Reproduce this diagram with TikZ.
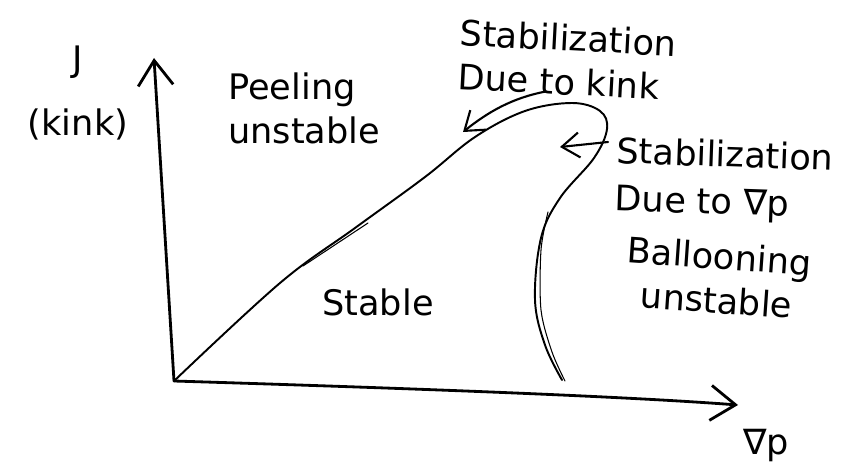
\documentclass[tikz,border=0pt]{standalone}
\usepackage{amsmath,amssymb}
\usepackage{fontspec}
\setmainfont{DejaVu Sans}
\usetikzlibrary{arrows.meta}

\begin{document}
\begin{tikzpicture}[
    x=0.02cm, y=-0.02cm,
    lbl/.style={font=\fontsize{20}{25}\selectfont, inner sep=0pt, align=left},
    ax/.style={line width=1.6pt, line cap=round, -{Straight Barb[length=5mm, width=7mm, line width=1.6pt]}},
    bnd/.style={line width=1.1pt, line cap=round, line join=round},
    arr/.style={line width=1.2pt, line cap=round, -{Straight Barb[length=3.5mm, width=5mm, line width=1.2pt]}}
]
\useasboundingbox (0,0) rectangle (851,466);

\coordinate (orig) at (174,381);
\coordinate (ytip) at (154,58);
\coordinate (xtip) at (738,405);
\coordinate (kinktip) at (463,132);
\coordinate (gradtip) at (560,147);

\node[lbl] (jlbl) at (78,62) {J};
\node[lbl] (kinkax) at (78,124) {(kink)};
\node[lbl] (gradax) at (766,446) {∇p};
\node[lbl, anchor=west] (peel) at (228,108) {Peeling\\unstable};
\node[lbl, anchor=west, rotate=-3] (kinklbl) at (459,54) {Stabilization\\Due to kink};
\node[lbl, anchor=north west, rotate=-2, font=\fontsize{20}{27}\selectfont] (gradlbl) at (617,136) {Stabilization\\Due to ∇p};
\node[lbl, align=center, rotate=-4] (ball) at (718,278) {Ballooning\\unstable};
\node[lbl] (stab) at (378,302) {Stable};

\draw[ax] (orig) -- (ytip);
\draw[ax] (orig) .. controls (400,388) and (620,396) .. (xtip);

\draw[bnd] plot[smooth, tension=0.6] coordinates {(orig) (280,283) (355,228) (425,177) (475,137) (525,111) (572,103) (600,111) (607,129) (594,158) (560,198) (541,238) (535,300) (545,345) (562,380)};
\draw[bnd, line width=0.6pt] (303,266) -- (368,223);
\draw[bnd, line width=0.6pt] plot[smooth] coordinates {(548,212) (541,250) (541,310) (552,352) (565,381)};

\draw[arr] ([shift={(-20,-4)}]kinklbl.south) .. controls (512,98) and (488,112) .. (kinktip);
\draw[arr] ([shift={(-9,6)}]gradlbl.north west) -- (gradtip);
\end{tikzpicture}
\end{document}
